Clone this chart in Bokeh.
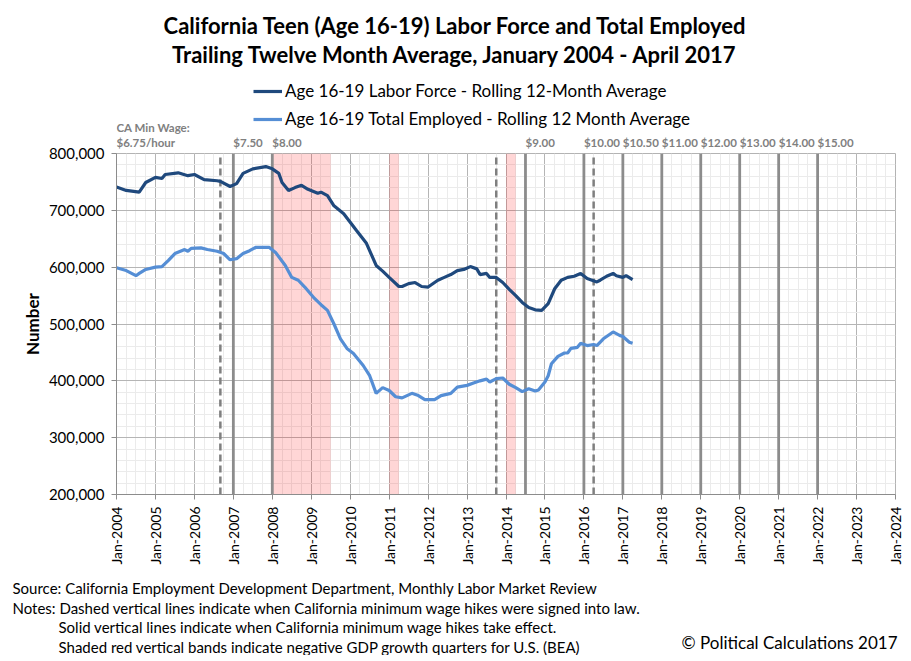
import numpy as np
from bokeh.plotting import figure
from bokeh.layouts import column
from bokeh.models import FixedTicker, Label, Legend, LegendItem, NumeralTickFormatter, Range1d
from bokeh.embed import file_html
from bokeh.resources import INLINE

# ---------------- data (values in thousands) ----------------
labor_months = [
    "2004-01", "2004-04", "2004-08", "2004-10",
    "2005-01", "2005-03", "2005-04", "2005-08", "2005-11",
    "2006-01", "2006-04", "2006-08", "2006-09", "2006-12",
    "2007-02", "2007-04", "2007-07", "2007-11",
    "2008-01", "2008-03", "2008-04", "2008-06", "2008-08", "2008-10", "2008-12",
    "2009-03", "2009-04", "2009-06", "2009-08", "2009-11",
    "2010-01", "2010-03", "2010-06", "2010-09", "2010-11",
    "2011-01", "2011-04", "2011-05", "2011-07", "2011-09", "2011-11",
    "2012-01", "2012-04", "2012-06", "2012-08", "2012-10", "2012-12",
    "2013-02", "2013-04", "2013-05", "2013-07", "2013-08", "2013-10", "2013-12",
    "2014-02", "2014-04", "2014-06", "2014-08", "2014-10", "2014-12",
    "2015-02", "2015-04", "2015-06", "2015-08", "2015-10", "2015-12",
    "2016-02", "2016-05", "2016-06", "2016-08", "2016-10", "2016-11",
    "2017-01", "2017-02", "2017-04",
]
labor_force = [
    741, 735, 732, 749,
    758, 756, 763, 766, 761,
    763, 754, 752, 751, 742,
    747, 765, 773, 777,
    773, 765, 749, 735, 740, 744, 737,
    730, 732, 726, 708, 694,
    679, 664, 642, 603, 593,
    582, 566, 566, 571, 573, 566,
    565, 577, 582, 587, 594, 596,
    601, 597, 587, 589, 582, 582, 573,
    561, 550, 538, 529, 525, 524,
    536, 562, 577, 582, 584, 589,
    580, 574, 577, 584, 589, 585,
    582, 585, 578,
]

employed_months = [
    "2004-01", "2004-04", "2004-07", "2004-08", "2004-10",
    "2005-01", "2005-03", "2005-05", "2005-07", "2005-10", "2005-11", "2005-12",
    "2006-03", "2006-05", "2006-08", "2006-10", "2006-12",
    "2007-02", "2007-04", "2007-06", "2007-08", "2007-12",
    "2008-02", "2008-05", "2008-07", "2008-09", "2008-11",
    "2009-02", "2009-04", "2009-06", "2009-08", "2009-10", "2009-12",
    "2010-02", "2010-05", "2010-07", "2010-09", "2010-11",
    "2011-01", "2011-03", "2011-05", "2011-08", "2011-10", "2011-12",
    "2012-03", "2012-05", "2012-08", "2012-10",
    "2013-01", "2013-03", "2013-05", "2013-07", "2013-08", "2013-10", "2013-12",
    "2014-02", "2014-04", "2014-06", "2014-08", "2014-10", "2014-11",
    "2015-01", "2015-02", "2015-03", "2015-05", "2015-07", "2015-08", "2015-09", "2015-11", "2015-12",
    "2016-02", "2016-04", "2016-05", "2016-07", "2016-10", "2016-12",
    "2017-01", "2017-03", "2017-04",
]
total_employed = [
    599, 594, 585, 589, 596,
    600, 601, 612, 624, 631, 628, 633,
    634, 631, 628, 624, 613,
    615, 624, 629, 635, 635,
    626, 603, 582, 577, 565,
    545, 534, 524, 500, 474, 457,
    448, 427, 409, 378, 388,
    383, 372, 370, 378, 374, 367,
    367, 374, 378, 389,
    392, 396, 400, 403, 398, 404, 405,
    394, 388, 381, 386, 382, 384,
    398, 409, 430, 443, 449, 449, 457, 459, 466,
    462, 464, 462, 474, 486, 480,
    478, 468, 466,
]

signed_dates = ["2006-09", "2013-10", "2016-04"]
effective_dates = ["2007-01", "2008-01", "2014-07", "2016-01", "2017-01",
                   "2018-01", "2019-01", "2020-01", "2021-01", "2022-01"]
wage_labels = ["$7.50", "$8.00", "$9.00", "$10.00", "$10.50",
               "$11.00", "$12.00", "$13.00", "$14.00", "$15.00"]
recession_starts = ["2008-01", "2011-01", "2014-01"]
recession_ends = ["2009-07", "2011-04", "2014-04"]

year_ticks = list(range(2004, 2025))
y_ticks = [200000, 300000, 400000, 500000, 600000, 700000, 800000]


def dec(s):
    y, m = s.split("-")
    return int(y) + (int(m) - 1) / 12.0


FONT = "Lato"
W = 905
DARK = "#1f497d"
LIGHT = "#558ed5"

# ---------------- main chart: frame x 116..895, y 153..494 ----------------
p = figure(width=W, height=12 + 341 + 81, output_backend="svg", toolbar_location=None,
           x_range=Range1d(2004, 2024), y_range=Range1d(200000, 800000),
           min_border_left=116, min_border_right=W - 895, min_border_top=12, min_border_bottom=81)
p.margin = (-12, 0, 0, 0)
p.background_fill_color = "white"
p.border_fill_color = None
p.outline_line_color = "#b3b3b3"

p.xaxis.ticker = FixedTicker(ticks=year_ticks, minor_ticks=list(np.arange(2004, 2024.01, 0.25)))
p.yaxis.ticker = FixedTicker(ticks=y_ticks, minor_ticks=list(range(200000, 800001, 20000)))
for g in (p.xgrid, p.ygrid):
    g.grid_line_color = "#b5b5b5"
    g.grid_line_width = 1
    g.minor_grid_line_color = "#ebebeb"
    g.minor_grid_line_width = 1

p.yaxis.formatter = NumeralTickFormatter(format="0,0")
p.xaxis.major_label_overrides = {y: f"Jan-{y}" for y in year_ticks}
p.xaxis.major_label_orientation = np.pi / 2
for ax in (p.xaxis, p.yaxis):
    ax.axis_line_color = "#8c8c8c"
    ax.major_tick_line_color = "#8c8c8c"
    ax.major_tick_out = 5
    ax.major_tick_in = 0
    ax.minor_tick_out = 0
    ax.minor_tick_in = 0
    ax.major_label_text_font = FONT
    ax.major_label_text_color = "black"
    ax.major_label_standoff = 7
p.xaxis.major_label_text_font_size = "14px"
p.yaxis.major_label_text_font_size = "15px"
p.yaxis.axis_label = "Number"
p.yaxis.axis_label_text_font = FONT
p.yaxis.axis_label_text_font_size = "17px"
p.yaxis.axis_label_text_font_style = "bold"
p.yaxis.axis_label_text_color = "black"
p.yaxis.axis_label_standoff = 3

p.quad(left=[dec(s) for s in recession_starts], right=[dec(s) for s in recession_ends],
       bottom=200000, top=800000, fill_color="#ff0000", fill_alpha=0.16, line_color=None)
p.segment(x0=[dec(s) for s in signed_dates], x1=[dec(s) for s in signed_dates],
          y0=200000, y1=800000, line_color="#7f7f7f", line_width=2.5, line_dash="7 4")
p.segment(x0=[dec(s) for s in effective_dates], x1=[dec(s) for s in effective_dates],
          y0=200000, y1=800000, line_color="#8c8c8c", line_width=2.8)

p.line([dec(s) for s in labor_months], [v * 1000 for v in labor_force],
       line_color=DARK, line_width=3.2)
p.line([dec(s) for s in employed_months], [v * 1000 for v in total_employed],
       line_color=LIGHT, line_width=3.2)

# ---------------- header: page y 0..153, same x frame as main ----------------
top = figure(width=W, height=153, output_backend="svg", toolbar_location=None,
             x_range=p.x_range, y_range=Range1d(0, 1), x_axis_type=None, y_axis_type=None,
             min_border_left=116, min_border_right=W - 895, min_border_top=0, min_border_bottom=0)
top.outline_line_color = None
top.background_fill_color = "white"
top.border_fill_color = "white"
TOP_B = 153


def lab(fig, text, sx, sy, size, bold=False, color="black", align="left"):
    fig.add_layout(Label(x=sx, y=sy, x_units="screen", y_units="screen", text=text,
                         text_font=FONT, text_font_size=size,
                         text_font_style="bold" if bold else "normal",
                         text_color=color, text_align=align, text_baseline="middle"))


lab(top, "California Teen (Age 16-19) Labor Force and Total Employed", 455 - 116, TOP_B - 25, "22px", bold=True, align="center")
lab(top, "Trailing Twelve Month Average, January 2004 - April 2017", 455 - 116, TOP_B - 54, "22px", bold=True, align="center")
lab(top, "CA Min Wage:", 0, TOP_B - 127, "11.5px", bold=True, color="#808080")
lab(top, "$6.75/hour", 0, TOP_B - 142, "11.5px", bold=True, color="#808080")
for d, t in zip(effective_dates, wage_labels):
    top.add_layout(Label(x=dec(d), y=TOP_B - 142, x_units="data", y_units="screen", text=t,
                         text_font=FONT, text_font_size="11.5px", text_font_style="bold",
                         text_color="#808080", text_align="left", text_baseline="middle"))

# legend swatches (renderers with no visible point)
k1 = top.line([np.nan], [np.nan], line_color=DARK, line_width=3.2)
k2 = top.line([np.nan], [np.nan], line_color=LIGHT, line_width=3.2)
legend = Legend(items=[
    LegendItem(label="Age 16-19 Labor Force - Rolling 12-Month Average", renderers=[k1]),
    LegendItem(label="Age 16-19 Total Employed - Rolling 12 Month Average", renderers=[k2]),
], location=(253 - 116, TOP_B - 129), orientation="vertical")
legend.label_text_font = FONT
legend.label_text_font_size = "17px"
legend.label_text_color = "black"
legend.glyph_width = 29
legend.glyph_height = 20
legend.label_height = 20
legend.label_standoff = 3
legend.spacing = 7
legend.padding = 0
legend.margin = 0
legend.border_line_color = None
legend.background_fill_alpha = 0
top.add_layout(legend, "center")

# ---------------- footer: page y 575..655 ----------------
bot = figure(width=W, height=80, output_backend="svg", toolbar_location=None,
             x_range=Range1d(0, 1), y_range=Range1d(0, 1), x_axis_type=None, y_axis_type=None,
             min_border_left=0, min_border_right=0, min_border_top=0, min_border_bottom=0)
try:
    bot.frame_align = False
except Exception:
    pass
bot.outline_line_color = None
bot.background_fill_color = "white"
bot.border_fill_color = "white"
BOT_B = 655

lab(bot, "Source: California Employment  Development Department,  Monthly Labor Market Review", 12, BOT_B - 587, "15px")
lab(bot, "Notes: Dashed vertical lines indicate when California minimum  wage hikes were signed into law.", 12, BOT_B - 607, "15px")
lab(bot, "Solid vertical lines indicate when California minimum  wage hikes take effect.", 58, BOT_B - 626, "15px")
lab(bot, "Shaded red vertical bands indicate negative GDP growth quarters for U.S. (BEA)", 58, BOT_B - 646, "15px")
lab(bot, "\u00a9 Political Calculations 2017", 897, BOT_B - 642, "17px", align="right")

layout = column(top, p, bot, spacing=0)
open("out.html", "w").write(file_html(layout, INLINE))
